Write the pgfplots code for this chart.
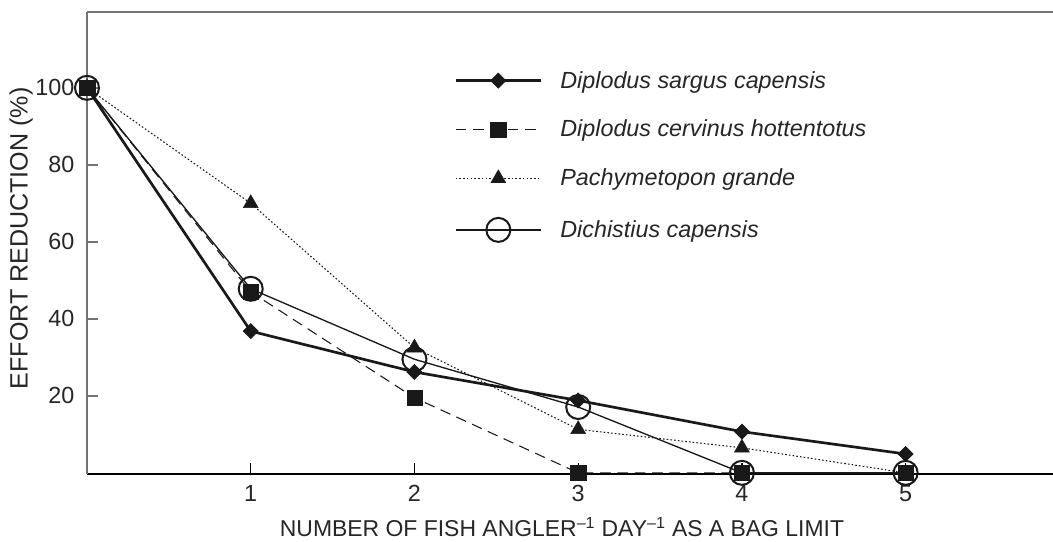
\documentclass[border=0pt]{standalone}
\usepackage{fontspec}
\setmainfont{Liberation Sans}
\usepackage{pgfplots}
\pgfplotsset{compat=1.18}
\begin{document}
\begin{tikzpicture}
\useasboundingbox (-65.25pt,-51pt) rectangle (724.5pt,355.5pt);
\begin{axis}[
  at={(0pt,0pt)}, anchor=south west,
  scale only axis, width=724.5pt, height=346.5pt,
  xmin=0, xmax=5.90, ymin=-0.3, ymax=119.7,
  axis lines=left, axis line style={-},
  x axis line style={black, line width=1.1pt},
  y axis line style={black!55, line width=1.3pt},
  xtick={1,2,3,4,5}, ytick={20,40,60,80,100},
  tick align=inside, major tick length=8pt,
  x tick style={black, line width=0.9pt},
  y tick style={black!55, line width=1.1pt},
  /pgf/number format/assume math mode=true,
  tick label style={font=\fontsize{17.5}{20}\selectfont, text=black!85},
  xticklabel style={yshift=-5pt},
  yticklabel style={xshift=-6pt},
  ylabel={EFFORT REDUCTION (\%)},
  xlabel={NUMBER OF FISH ANGLER\textsuperscript{–1} DAY\textsuperscript{–1} AS A BAG LIMIT},
  x label style={font=\fontsize{17.2}{20}\selectfont, text=black!85,
    at={(axis description cs:0.4917,-0.1147)}, anchor=center},
  y label style={font=\fontsize{18.8}{20}\selectfont, text=black!85,
    at={(axis description cs:-0.0683,0.51)}, anchor=center},
  clip=false,
  legend style={at={(axis description cs:0.380,0.8725)}, anchor=north west,
    draw=none, fill=none, inner sep=0pt,
    font=\itshape\fontsize{17.5}{20}\selectfont, text=black!85,
    row sep=22.5pt,
    nodes={inner sep=0pt, anchor=west},
    /tikz/every odd column/.append style={column sep=13.5pt}},
  legend cell align=left,
  legend image code/.code={%
    \draw[mark repeat=2,mark phase=2] plot coordinates {(0pt,0pt) (32pt,0pt) (64pt,0pt)};},
]
\addplot[black!90, line width=2pt, mark=square*, mark size=4pt,
  mark options={solid, rotate=45, fill=black!90, line width=0.5pt}]
  coordinates {(0,100) (1,36.8) (2,26.2) (3,18.8) (4,10.7) (5,4.9)};
\addlegendentry{Diplodus sargus capensis}
\addplot[black!90, line width=0.8pt, dash pattern=on 8pt off 5pt, mark=square*, mark size=5.8pt,
  mark options={solid, fill=black!90, line width=0.3pt}]
  coordinates {(0,100) (1,47) (2,19.5) (3,0) (4,0) (5,0)};
\addlegendentry{Diplodus cervinus hottentotus}
\addplot[black!90, line width=0.8pt, dash pattern=on 1.2pt off 1.6pt, mark=triangle*, mark size=6.5pt,
  mark options={solid, fill=black!90, line width=0.3pt}]
  coordinates {(0,100) (1,70) (2,32.5) (3,11.3) (4,6.5) (5,0)};
\addlegendentry{Pachymetopon grande}
\addplot[black!90, line width=1pt, mark=o, mark size=9pt,
  mark options={solid, line width=1.5pt}]
  coordinates {(0,100) (1,47.8) (2,29.5) (3,17.1) (4,0) (5,0)};
\addlegendentry{Dichistius capensis}
\draw[black!55, line width=1.5pt] (rel axis cs:0,1) -- (rel axis cs:1,1);
\end{axis}
\end{tikzpicture}
\end{document}
